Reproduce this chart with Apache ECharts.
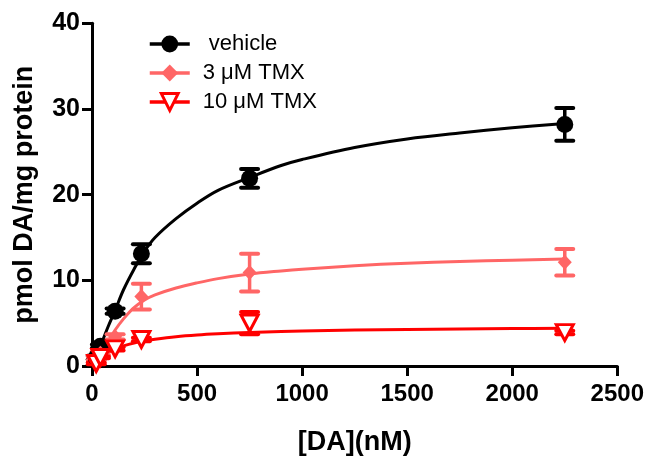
<!DOCTYPE html>
<html>
<head>
<meta charset="utf-8">
<script src="https://cdn.jsdelivr.net/npm/echarts@6/dist/echarts.min.js"></script>
<style>
html,body{margin:0;padding:0;background:#fff;}
#chart{width:647px;height:461px;}
</style>
</head>
<body>
<div id="chart"></div>
<script>
// ---- data ----
const seriesNames = ['vehicle', '3 μM TMX', '10 μM TMX'];
const concX = [20, 40, 110, 235, 750, 2250];               // [DA] (nM)
const vehicleY = [1.0, 2.3, 6.4, 13.1, 21.9, 28.2];
const vehicleSem = [0.2, 0.2, 0.3, 1.1, 1.1, 1.9];
const tmx3Y = [0.9, 1.5, 3.4, 8.1, 10.9, 12.1];
const tmx3Sem = [0.2, 0.2, 0.3, 1.5, 2.2, 1.55];
const tmx10Y = [0.3, 1.0, 2.0, 3.1, 5.0, 3.9];
const tmx10Sem = [0.1, 0.1, 0.2, 0.2, 1.3, 0.2];

// fitted curves
const curveX = [20, 40, 75, 110, 150, 200, 250, 300, 400, 500, 600, 750, 900, 1000, 1250, 1500, 1750, 2000, 2250];
const vehicleCurve = [1.0, 2.3, 4.5, 6.5, 8.9, 11.3, 13.4, 15.0, 17.2, 19.0, 20.5, 22.0, 23.4, 24.1, 25.5, 26.5, 27.2, 27.8, 28.3];
const tmx3Curve = [0.8, 1.5, 2.8, 4.2, 5.5, 6.8, 7.7, 8.3, 9.1, 9.7, 10.2, 10.74, 11.1, 11.3, 11.7, 12.0, 12.2, 12.35, 12.5];
const tmx10Curve = [0.55, 0.99, 1.57, 1.99, 2.35, 2.69, 2.94, 3.13, 3.42, 3.62, 3.76, 3.92, 4.03, 4.09, 4.2, 4.27, 4.33, 4.37, 4.4];

const xTicks = [0, 500, 1000, 1500, 2000, 2500];
const yTicks = [0, 10, 20, 30, 40];

// ---- styles ----
const BLACK = '#000000';
const PINK = '#FF6666';
const RED = '#FF0000';
const FONT = '"Liberation Sans", Arial, Helvetica, sans-serif';
const TRI = 'path://M0,0 L20,0 L10,19 Z';

function zip(xs, ys) { return xs.map((x, i) => [x, ys[i]]); }
function zip3(xs, ys, es) { return xs.map((x, i) => [x, ys[i], es[i]]); }

function errRender(color) {
  return function (params, api) {
    const x = api.value(0), y = api.value(1), e = api.value(2);
    if (!e) return null;
    const top = api.coord([x, y + e]);
    const bot = api.coord([x, y - e]);
    const hw = 8.5;
    const st = {stroke: color, lineWidth: 4, lineCap: 'round'};
    return {
      type: 'group',
      children: [
        {type: 'line', shape: {x1: top[0], y1: top[1], x2: bot[0], y2: bot[1]}, style: {stroke: color, lineWidth: 3.5}},
        {type: 'line', shape: {x1: top[0] - hw, y1: top[1], x2: top[0] + hw, y2: top[1]}, style: st},
        {type: 'line', shape: {x1: bot[0] - hw, y1: bot[1], x2: bot[0] + hw, y2: bot[1]}, style: st}
      ]
    };
  };
}

const chart = echarts.init(document.getElementById('chart'), null, {renderer: 'canvas'});

const option = {
  animation: false,
  backgroundColor: '#ffffff',
  grid: {left: 92, top: 23.3, width: 525.5, height: 350, containLabel: false},
  legend: {
    orient: 'vertical',
    left: 143,
    top: 28,
    itemWidth: 40,
    itemHeight: 21,
    itemGap: 7,
    selectedMode: false,
    formatter: function (n) { return n === 'vehicle' ? ' vehicle' : n; },
    textStyle: {fontSize: 22, fontFamily: FONT, color: '#000', padding: [0, 0, 0, 8]},
    data: [
      {name: seriesNames[0], itemStyle: {color: BLACK}, lineStyle: {color: BLACK, width: 3.5}},
      {name: seriesNames[1], itemStyle: {color: PINK}, lineStyle: {color: PINK, width: 3.5}},
      {name: seriesNames[2], itemStyle: {color: '#fff', borderColor: RED, borderWidth: 3}, lineStyle: {color: RED, width: 3.5}}
    ]
  },
  xAxis: {
    type: 'value', min: 0, max: 2500, interval: 500,
    name: '[DA](nM)', nameLocation: 'middle', nameGap: 63,
    nameTextStyle: {fontSize: 27, fontWeight: 'bold', fontFamily: FONT, color: '#000'},
    axisLine: {show: true, onZero: false, lineStyle: {color: '#000', width: 3}},
    axisTick: {show: true, inside: false, length: 10, lineStyle: {color: '#000', width: 3}},
    axisLabel: {fontSize: 24, fontWeight: 'bold', fontFamily: FONT, color: '#000', margin: 16,
      formatter: function (v) { return xTicks.indexOf(v) >= 0 ? String(v) : ''; }},
    splitLine: {show: false}
  },
  yAxis: {
    type: 'value', min: 0, max: 40, interval: 10,
    name: 'pmol DA/mg protein', nameLocation: 'middle', nameGap: 54, nameRotate: 90,
    nameTextStyle: {fontSize: 27, fontWeight: 'bold', fontFamily: FONT, color: '#000'},
    axisLine: {show: true, onZero: false, lineStyle: {color: '#000', width: 3}},
    axisTick: {show: true, inside: false, length: 10, lineStyle: {color: '#000', width: 3}},
    axisLabel: {fontSize: 25, fontWeight: 'bold', fontFamily: FONT, color: '#000', margin: 12,
      formatter: function (v) { return yTicks.indexOf(v) >= 0 ? String(v) : ''; }},
    splitLine: {show: false}
  },
  series: [
    // curves (also provide legend icons)
    {name: seriesNames[0], type: 'line', data: zip(curveX, vehicleCurve), smooth: 0.35, showSymbol: false,
      symbol: 'circle', itemStyle: {color: BLACK}, lineStyle: {color: BLACK, width: 3}, z: 2, clip: false},
    {name: seriesNames[1], type: 'line', data: zip(curveX, tmx3Curve), smooth: 0.35, showSymbol: false,
      symbol: 'diamond', itemStyle: {color: PINK}, lineStyle: {color: PINK, width: 3}, z: 2, clip: false},
    {name: seriesNames[2], type: 'line', data: zip(curveX, tmx10Curve), smooth: 0.35, showSymbol: false,
      symbol: TRI, itemStyle: {color: '#fff', borderColor: RED, borderWidth: 3}, lineStyle: {color: RED, width: 3}, z: 2, clip: false},
    // error bars
    {name: seriesNames[0], type: 'custom', data: zip3(concX, vehicleY, vehicleSem), renderItem: errRender(BLACK), z: 3, clip: false},
    {name: seriesNames[1], type: 'custom', data: zip3(concX, tmx3Y, tmx3Sem), renderItem: errRender(PINK), z: 3, clip: false},
    {name: seriesNames[2], type: 'custom', data: zip3(concX, tmx10Y, tmx10Sem), renderItem: errRender(RED), z: 3, clip: false},
    // points
    {name: seriesNames[0], type: 'scatter', data: zip(concX, vehicleY), symbol: 'circle', symbolSize: 17,
      itemStyle: {color: BLACK, opacity: 1}, z: 4, clip: false},
    {name: seriesNames[1], type: 'scatter', data: zip(concX, tmx3Y), symbol: 'diamond', symbolSize: [14, 15],
      itemStyle: {color: PINK, opacity: 1}, z: 4, clip: false},
    {name: seriesNames[2], type: 'scatter', data: zip(concX, tmx10Y), symbol: TRI, symbolSize: [17, 16],
      itemStyle: {color: '#fff', borderColor: RED, borderWidth: 3, opacity: 1}, z: 4, clip: false}
  ]
};
chart.setOption(option);
</script>
</body>
</html>
